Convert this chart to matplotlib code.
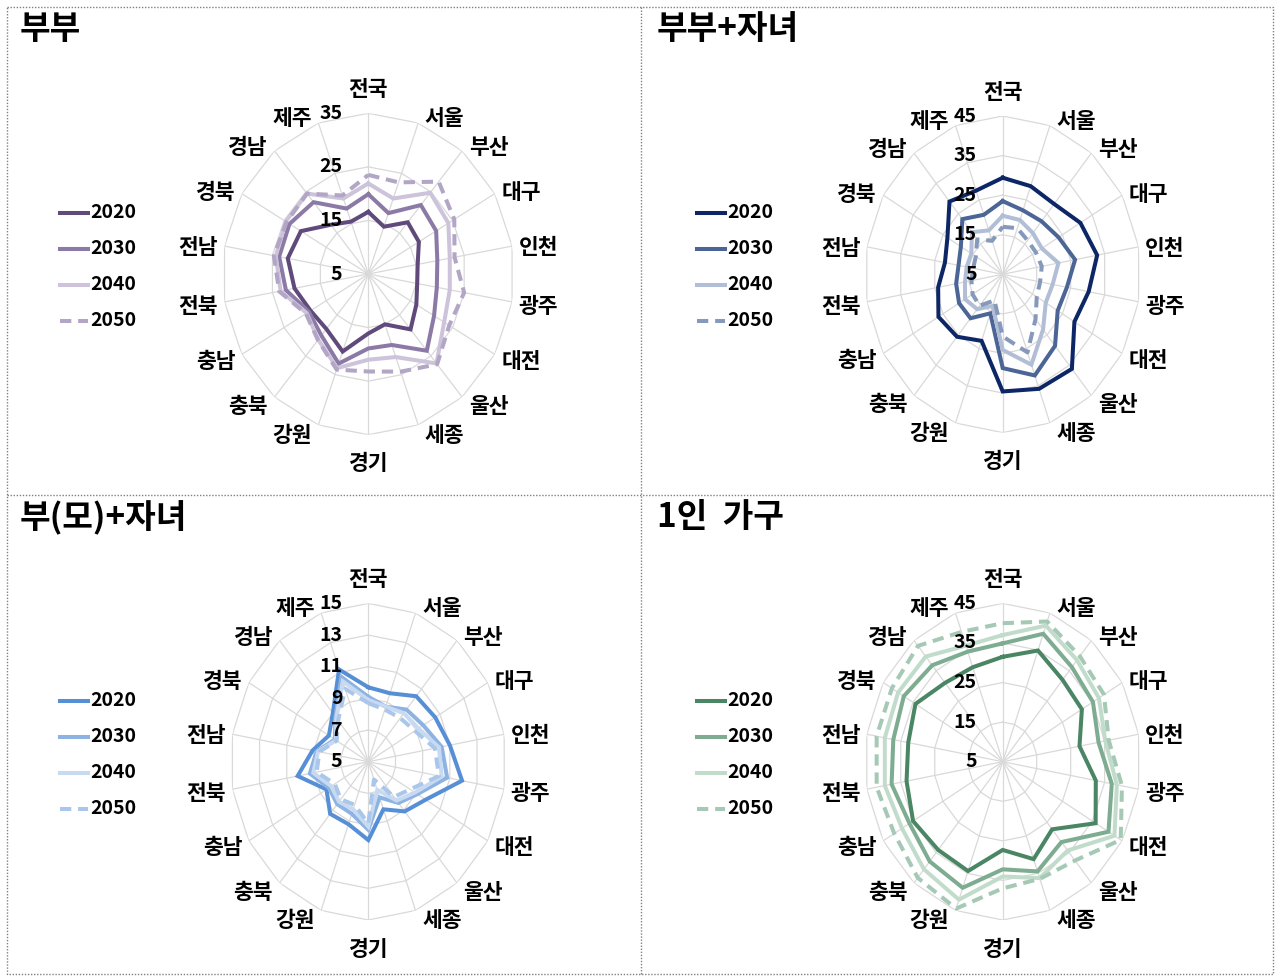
import numpy as np
import matplotlib
matplotlib.use('Agg')
import matplotlib.pyplot as plt
import matplotlib.transforms as mtransforms
from matplotlib.lines import Line2D

plt.rcParams['font.family'] = ['Noto Sans CJK KR', 'DejaVu Sans']

# 지역 (시계 방향, 위에서 시작)
regions = ['전국', '서울', '부산', '대구', '인천', '광주', '대전', '울산', '세종',
           '경기', '강원', '충북', '충남', '전북', '전남', '경북', '경남', '제주']
years = ['2020', '2030', '2040', '2050']

# 부부
couple_2020 = [16.6, 14.4, 17.6, 17.0, 15.3, 15.2, 16.4, 18.5, 15.0, 16.1, 20.4, 18.4, 18.7, 20.4, 21.8, 21.0, 17.0, 15.4]
couple_2030 = [19.9, 17.1, 21.8, 21.1, 19.4, 19.3, 20.6, 23.7, 19.1, 18.9, 22.8, 20.0, 19.1, 22.2, 23.6, 23.7, 22.5, 18.0]
couple_2040 = [21.9, 20.0, 24.8, 24.0, 22.0, 22.0, 23.0, 26.8, 21.5, 21.0, 23.7, 21.0, 19.6, 23.3, 24.3, 24.6, 24.6, 20.0]
couple_2050 = [23.5, 23.2, 27.5, 25.4, 23.0, 25.0, 24.2, 27.0, 24.4, 23.2, 24.0, 21.1, 19.8, 23.6, 24.7, 24.4, 24.6, 20.6]

# 부부+자녀
cwc_2020 = [29.4, 28.7, 28.2, 31.0, 32.8, 30.3, 29.0, 36.2, 35.8, 34.6, 22.9, 25.6, 26.5, 24.0, 22.0, 23.5, 29.0, 27.5]
cwc_2030 = [23.5, 22.2, 22.5, 23.7, 26.3, 23.9, 23.4, 28.6, 32.2, 28.7, 15.5, 19.5, 19.6, 18.7, 18.0, 19.0, 23.2, 21.0]
cwc_2040 = [19.8, 19.6, 18.6, 18.1, 21.4, 19.7, 19.4, 23.2, 29.3, 24.1, 13.5, 16.5, 17.6, 16.1, 15.6, 15.5, 18.9, 16.8]
cwc_2050 = [17.0, 17.4, 16.2, 16.1, 16.5, 16.0, 16.4, 19.8, 26.0, 20.7, 12.0, 15.4, 15.1, 14.2, 13.7, 14.0, 16.5, 14.0]

# 부(모)+자녀
single_parent_2020 = [9.7, 9.6, 10.4, 10.6, 11.0, 11.9, 9.8, 9.1, 8.2, 9.95, 9.2, 9.3, 8.5, 10.2, 9.1, 8.3, 9.0, 11.2]
single_parent_2030 = [9.1, 8.7, 9.3, 9.6, 10.4, 10.8, 9.1, 8.4, 7.4, 9.3, 8.5, 8.5, 8.3, 9.3, 8.8, 7.8, 8.7, 10.7]
single_parent_2040 = [8.9, 8.7, 9.0, 9.2, 10.2, 10.4, 8.9, 8.2, 6.9, 9.1, 8.2, 8.3, 8.1, 9.05, 8.7, 7.7, 8.6, 10.4]
single_parent_2050 = [8.7, 8.5, 8.6, 8.9, 9.9, 10.2, 8.5, 7.9, 6.2, 8.9, 7.9, 8.1, 7.8, 8.8, 8.6, 7.65, 8.4, 9.9]

# 1인 가구
one_2020 = [31.5, 34.9, 32.0, 31.5, 27.6, 32.4, 36.1, 27.3, 31.2, 27.3, 34.4, 34.1, 35.0, 33.3, 32.8, 34.2, 31.0, 30.4]
one_2030 = [34.9, 39.4, 36.2, 35.2, 33.2, 37.1, 40.4, 31.5, 34.5, 32.2, 38.9, 37.9, 36.2, 37.7, 37.2, 38.1, 36.8, 34.6]
one_2040 = [37.0, 41.6, 38.5, 37.2, 35.2, 38.6, 42.4, 34.3, 36.3, 34.0, 42.1, 40.5, 38.7, 39.7, 39.7, 40.0, 39.7, 36.2]
one_2050 = [40.0, 42.7, 39.8, 38.9, 36.2, 40.1, 44.5, 37.6, 36.5, 37.0, 44.5, 43.3, 41.3, 42.1, 42.1, 42.1, 43.2, 39.9]

W, H = 1276, 976
fig = plt.figure(figsize=(W / 100, H / 100), dpi=100)
# 픽셀 좌표 (왼쪽 위 원점)
px = mtransforms.Affine2D().scale(1 / W, -1 / H).translate(0, 1) + fig.transFigure

grid_c = '#d9d9d9'

panels = [
    dict(title='부부', data=[couple_2020, couple_2030, couple_2040, couple_2050],
         colors=['#604a7b', '#8c7aa6', '#cdc3da', '#b3a5c6'],
         ticks=[5, 15, 25, 35], cx=368.3, cy=274.0, rh=146, rv=160.7, ox=0, oy=0),
    dict(title='부부+자녀', data=[cwc_2020, cwc_2030, cwc_2040, cwc_2050],
         colors=['#0d2766', '#4b6596', '#b1bed6', '#8699bb'],
         ticks=[5, 15, 25, 35, 45], cx=1002.7, cy=274.3, rh=138, rv=158.3, ox=637, oy=0),
    dict(title='부(모)+자녀', data=[single_parent_2020, single_parent_2030, single_parent_2040, single_parent_2050],
         colors=['#578fd6', '#8db3e2', '#c8daf1', '#aac7eb'],
         ticks=[5, 7, 9, 11, 13, 15], cx=368.3, cy=761.7, rh=138, rv=158.3, ox=0, oy=488),
    dict(title='1인  가구', data=[one_2020, one_2030, one_2040, one_2050],
         colors=['#4a8564', '#7dac91', '#c2dccc', '#a6c9b5'],
         ticks=[5, 15, 25, 35, 45], cx=1002.7, cy=761.7, rh=138, rv=158.3, ox=637, oy=488),
]

n = len(regions)
theta = np.arange(n) * 2 * np.pi / n
theta_c = np.append(theta, theta[0])

for p in panels:
    rect = [(p['cx'] - p['rh']) / W, 1 - (p['cy'] + p['rv']) / H, 2 * p['rh'] / W, 2 * p['rv'] / H]
    ax = fig.add_axes(rect, projection='polar')
    ax.set_aspect('auto')
    ax.set_theta_zero_location('N')
    ax.set_theta_direction(-1)
    vmin, vmax = p['ticks'][0], p['ticks'][-1]
    ax.set_ylim(vmin, vmax)
    ax.set_xticks(theta)
    ax.set_xticklabels([])
    ax.set_yticks([])
    ax.xaxis.grid(True, color=grid_c, lw=0.9)
    ax.spines['polar'].set_visible(False)

    # 다각형 격자
    for r in p['ticks'][1:]:
        ax.plot(theta_c, [r] * (n + 1), color=grid_c, lw=0.9, zorder=1)

    # 계열
    for k, vals in enumerate(p['data']):
        v = np.append(vals, vals[0])
        ls = (0, (2.8, 1.7)) if k == 3 else '-'
        ax.plot(theta_c, v, color=p['colors'][k], lw=2.9, linestyle=ls,
                solid_joinstyle='miter', zorder=3 + k)

    # 축 눈금 라벨
    for t in p['ticks']:
        ax.annotate(str(t), xy=(0, t), xytext=(-26, 0), textcoords='offset pixels',
                    ha='right', va='center', fontsize=14, fontweight='bold',
                    annotation_clip=False, zorder=10)

    # 지역 라벨
    for th, name in zip(theta, regions):
        s, c = np.sin(th), np.cos(th)
        if abs(s) < 0.01:
            ha = 'center'
            dx = 0
            dy = 24 if c > 0 else -29
        else:
            ha = 'left' if s > 0 else 'right'
            dx = 6.5 if s > 0 else -6.5
            dy = 8 * c - 3
        ax.annotate(name, xy=(th, vmax), xytext=(dx, dy), textcoords='offset pixels',
                    ha=ha, va='center', fontsize=15.5, fontweight='bold',
                    annotation_clip=False)

    # 제목
    fig.text(20 + p['ox'], 30 + p['oy'], p['title'], transform=px, ha='left', va='center',
             fontsize=24, fontweight='bold')

    # 범례
    for k, yr in enumerate(years):
        y = 213 + p['oy'] + k * 36
        ls = (0, (2.8, 1.7)) if k == 3 else '-'
        fig.add_artist(Line2D([60 + p['ox'], 88 + p['ox']], [y, y], transform=px,
                              color=p['colors'][k], lw=2.9, linestyle=ls))
        fig.text(90 + p['ox'], y, yr, transform=px, ha='left', va='center',
                 fontsize=14, fontweight='bold')

# 점선 테두리
border = dict(transform=px, color='#808080', lw=1.0, linestyle=(0, (1, 1.2)))
fig.add_artist(Line2D([7, 1273, 1273, 7, 7], [7, 7, 974, 974, 7], **border))
fig.add_artist(Line2D([641, 641], [7, 974], **border))
fig.add_artist(Line2D([7, 1273], [495, 495], **border))

fig.savefig('out.png', dpi=100)
